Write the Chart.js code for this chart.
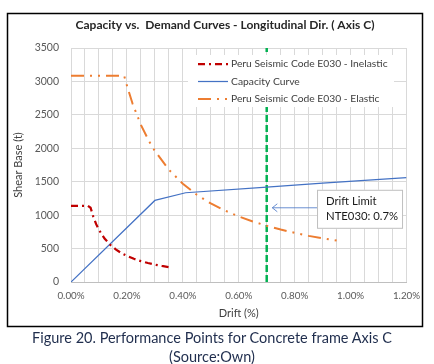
<!DOCTYPE html>
<html>
<head>
<meta charset="utf-8">
<script src="https://cdn.jsdelivr.net/npm/chart.js@4.4.1/dist/chart.umd.min.js"></script>
<style>
  body { margin: 0; background: #fff; }
  #wrap { position: relative; width: 434px; height: 364px; }
  #chart { position: absolute; left: 0; top: 0; }
  #caption { position: absolute; left: 0; top: 328px; width: 424px; text-align: center;
             font: 14.5px Lato, sans-serif; line-height: 19px; color: #1f2d4d; }
</style>
</head>
<body>
<div id="wrap">
  <canvas id="chart" width="434" height="330"></canvas>
  <div id="caption">Figure 20. Performance Points for Concrete frame Axis C<br>(Source:Own)</div>
</div>
<script>
// Data (drift in %, shear base in t)
const inelasticDrift = [0, 0.06, 0.07, 0.08, 0.09, 0.10, 0.12, 0.14, 0.16, 0.18, 0.20, 0.225, 0.25, 0.275, 0.30, 0.325, 0.35];
const inelasticShear = [1140, 1140, 1110, 975, 865, 780, 650, 557, 488, 433, 390, 347, 312, 284, 260, 240, 223];

const capacityDrift = [0, 0.30, 0.41, 0.70, 0.90, 1.20];
const capacityShear = [0, 1220, 1335, 1420, 1480, 1560];

const elasticDrift = [0, 0.19, 0.20, 0.22, 0.25, 0.28, 0.30, 0.35, 0.40, 0.45, 0.50, 0.55, 0.60, 0.65, 0.70, 0.75, 0.80, 0.85, 0.90, 0.96];
const elasticShear = [3085, 3085, 2940, 2670, 2350, 2100, 1960, 1680, 1470, 1305, 1175, 1070, 980, 905, 840, 785, 735, 690, 655, 612];

const limitDrift = [0.7, 0.7];
const limitShear = [0, 3500];

const seriesNames = ['Peru Seismic Code E030 - Inelastic', 'Capacity Curve', 'Peru Seismic Code E030 - Elastic'];
const chartTitle = 'Capacity vs.  Demand Curves - Longitudinal Dir. ( Axis C)';
const noteLines = ['Drift Limit', 'NTE030: 0.7%'];

const FONT = 'Lato, "Open Sans", sans-serif';

// zip two arrays into {x, y} points
function toPoints(xs, ys) {
    return xs.map((x, i) => ({ x: x, y: ys[i] }));
}

// frame, title, legend box and drift-limit callout
const decorations = {
    id: 'decorations',
    beforeDraw(chart) {
        const ctx = chart.ctx;
        ctx.save();
        ctx.fillStyle = '#fff';
        ctx.fillRect(0, 0, chart.width, chart.height);
        ctx.strokeStyle = '#000';
        ctx.lineWidth = 1.5;
        ctx.strokeRect(7.5, 13.5, 415, 313);
        ctx.restore();
    },
    afterDatasetsDraw(chart) {
        const ctx = chart.ctx;
        const xs = chart.scales.x, ys = chart.scales.y;
        ctx.save();

        // legend (inside plot, upper right)
        ctx.fillStyle = '#fff';
        ctx.fillRect(188, 55, 206, 52);
        ctx.font = '10.3px ' + FONT;
        ctx.textBaseline = 'middle';
        ctx.textAlign = 'left';
        const rows = [64, 81.5, 99];
        for (let i = 0; i < 3; i++) {
            const ds = chart.data.datasets[i];
            ctx.strokeStyle = ds.borderColor;
            ctx.lineWidth = ds.borderWidth;
            ctx.setLineDash(ds.borderDash || []);
            ctx.beginPath();
            ctx.moveTo(198, rows[i]);
            ctx.lineTo(228, rows[i]);
            ctx.stroke();
            ctx.setLineDash([]);
            ctx.fillStyle = '#404040';
            ctx.fillText(ds.label, 231, rows[i]);
        }

        // drift limit callout
        const tipX = xs.getPixelForValue(0.72);
        const tipY = ys.getPixelForValue(1110);
        const boxX = xs.getPixelForValue(0.88);
        ctx.strokeStyle = '#4472C4';
        ctx.lineWidth = 0.8;
        ctx.beginPath();
        ctx.moveTo(boxX, tipY);
        ctx.lineTo(tipX, tipY);
        ctx.moveTo(tipX + 5, tipY - 4);
        ctx.lineTo(tipX, tipY);
        ctx.lineTo(tipX + 5, tipY + 4);
        ctx.stroke();
        ctx.fillStyle = '#fff';
        ctx.strokeStyle = '#bfbfbf';
        ctx.lineWidth = 1;
        ctx.fillRect(boxX, tipY - 18, 86, 39);
        ctx.strokeRect(boxX + 0.5, tipY - 17.5, 85, 38);
        ctx.fillStyle = '#1a1a1a';
        ctx.font = '11.3px ' + FONT;
        ctx.fillText(noteLines[0], boxX + 9, tipY - 6.5);
        ctx.fillText(noteLines[1], boxX + 9, tipY + 8.5);

        ctx.restore();
    },
    afterDraw(chart) {
        const ctx = chart.ctx;
        ctx.save();
        ctx.font = 'bold 12px ' + FONT;
        ctx.fillStyle = '#262626';
        ctx.textAlign = 'center';
        ctx.textBaseline = 'middle';
        ctx.fillText(chartTitle, 225, 25);
        ctx.restore();
    }
};

const ctx = document.getElementById('chart').getContext('2d');
new Chart(ctx, {
    type: 'scatter',
    data: {
        datasets: [{
            label: seriesNames[0],
            data: toPoints(inelasticDrift, inelasticShear),
            showLine: true,
            borderColor: '#C00000',
            borderWidth: 2.25,
            borderDash: [7, 4, 2, 4],
            pointRadius: 0
        }, {
            label: seriesNames[1],
            data: toPoints(capacityDrift, capacityShear),
            showLine: true,
            borderColor: '#4472C4',
            borderWidth: 1.25,
            pointRadius: 0
        }, {
            label: seriesNames[2],
            data: toPoints(elasticDrift, elasticShear),
            showLine: true,
            borderColor: '#ED7D31',
            borderWidth: 2,
            borderDash: [13, 6, 2, 6, 2, 6],
            pointRadius: 0
        }, {
            label: 'Drift Limit',
            data: toPoints(limitDrift, limitShear),
            showLine: true,
            borderColor: '#00B050',
            borderWidth: 2.5,
            borderDash: [7, 3],
            pointRadius: 0
        }]
    },
    options: {
        responsive: false,
        animation: false,
        layout: { padding: { left: 8, right: 27.5, top: 48, bottom: 8 } },
        plugins: {
            legend: { display: false },
            title: { display: false },
            tooltip: { enabled: false }
        },
        scales: {
            x: {
                type: 'linear',
                min: 0,
                max: 1.2,
                afterFit: s => { s.height = 40; },
                grid: { color: '#d9d9d9', drawTicks: false },
                border: { color: '#bfbfbf' },
                ticks: {
                    stepSize: 0.05,
                    autoSkip: false,
                    maxRotation: 0,
                    padding: 8,
                    color: '#595959',
                    font: { family: FONT, size: 9.8 },
                    callback: v => (Math.round(v * 100) % 20 === 0 ? v.toFixed(2) + '%' : '')
                },
                title: {
                    display: true,
                    text: 'Drift (%)',
                    color: '#404040',
                    font: { family: FONT, size: 11 },
                    padding: { top: 0, bottom: 1.5 }
                }
            },
            y: {
                min: 0,
                max: 3500,
                afterFit: s => { s.width = 63; },
                grid: { color: '#d9d9d9', drawTicks: false },
                border: { display: false },
                ticks: {
                    stepSize: 500,
                    padding: 12,
                    color: '#595959',
                    font: { family: FONT, size: 10.5 },
                    callback: v => String(v)
                },
                title: {
                    display: true,
                    text: 'Shear Base (t)',
                    color: '#404040',
                    font: { family: FONT, size: 11 },
                    padding: { top: 3.5, bottom: 0 }
                }
            }
        }
    },
    plugins: [decorations]
});
</script>
</body>
</html>
